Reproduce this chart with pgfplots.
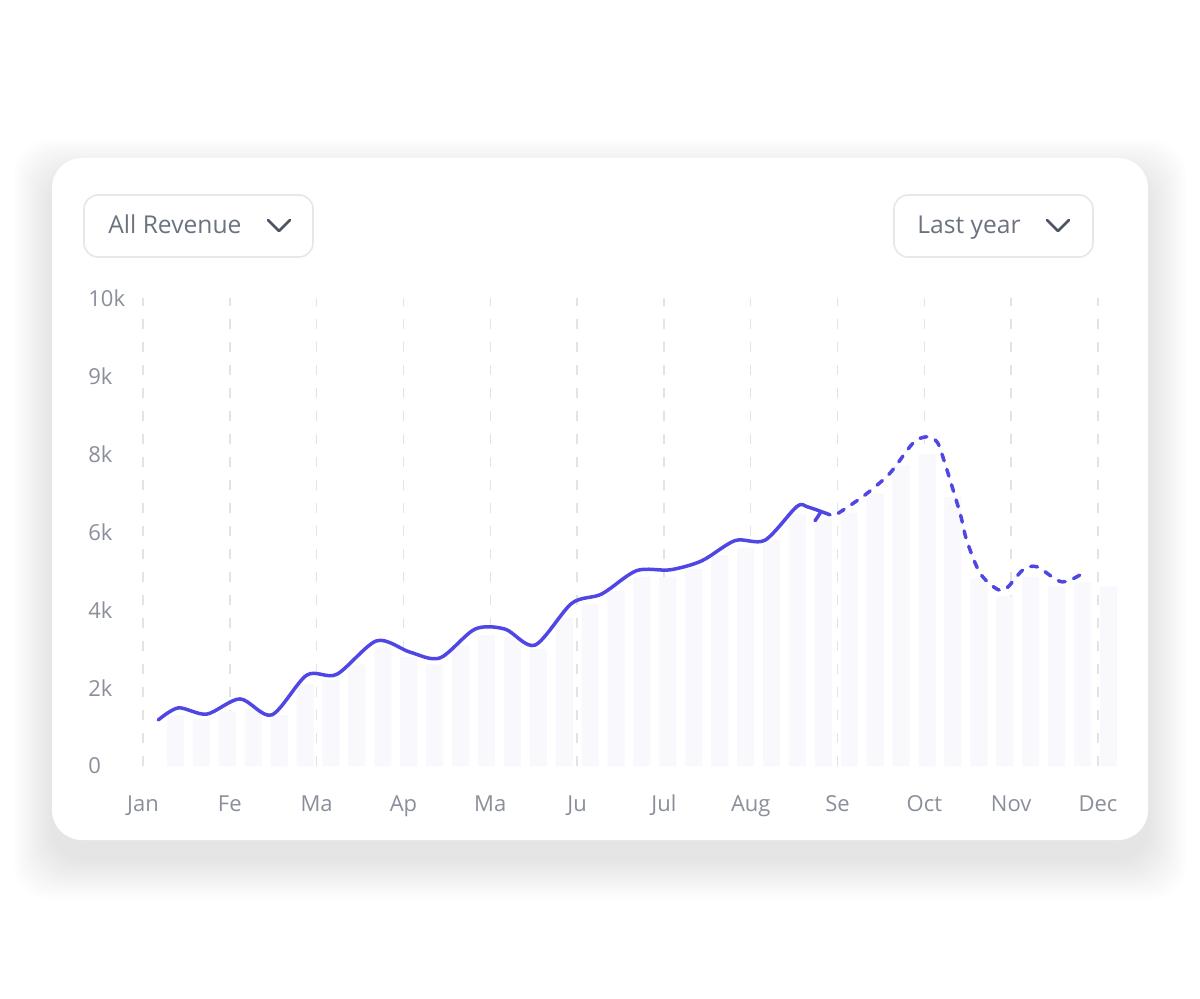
\documentclass[border=0pt]{standalone}
\usepackage{pgfplots}
\pgfplotsset{compat=1.18}
\usepackage{fontspec}
\setmainfont{Open Sans}
\definecolor{linecol}{HTML}{5046E4}
\definecolor{barcol}{HTML}{F8F8FD}
\definecolor{gridcol}{HTML}{E2E3E8}
\definecolor{tickcol}{HTML}{8A8F9B}
\definecolor{ddtext}{HTML}{6B7280}
\definecolor{ddborder}{HTML}{E5E7EB}
\definecolor{chev}{HTML}{4B5563}
\begin{document}
\begin{tikzpicture}
\fill[white] (0,0) rectangle (600pt,499pt);
\begin{scope}[x=0.5pt,y=-0.5pt,shift={(0pt,499pt)}]
  \foreach \i in {1,...,26} {
    \fill[black, opacity=0.0031, rounded corners=18pt] ({52-1.5*\i},{158-1.5*\i+20}) rectangle ({1148+1.5*\i},{840+1.5*\i+20});
  }
  \fill[white, rounded corners=15pt] (52,158) rectangle (1148,840);
  % dropdowns
  \draw[ddborder, line width=0.8pt, rounded corners=7pt, fill=white] (84,195) rectangle (313,257);
  \draw[ddborder, line width=0.8pt, rounded corners=7pt, fill=white] (894,195) rectangle (1093,257);
  \node[anchor=base west, inner sep=0pt, text=ddtext, font=\fontsize{12.3}{14}\selectfont] at (108,234) {All Revenue};
  \node[anchor=base west, inner sep=0pt, text=ddtext, font=\fontsize{12.3}{14}\selectfont] at (917,234) {Last year};
  \draw[chev, line width=1.3pt, line cap=round, line join=round] (268,220) -- (279,231) -- (290,220);
  \draw[chev, line width=1.3pt, line cap=round, line join=round] (1047,220) -- (1058,231) -- (1069,220);
\end{scope}
\useasboundingbox (0,0) rectangle (600pt,499pt);
\begin{axis}[
  at={(71.5pt,116pt)}, anchor=south west,
  scale only axis, width=488.36pt, height=234pt,
  xmin=0, xmax=11.25, ymin=0, ymax=12,
  axis line style={draw=none}, major tick length=0pt,
  xtick={0,...,11},
  xticklabels={Jan,Fe,Ma,Ap,Ma,Ju,Jul,Aug,Se,Oct,Nov,Dec},
  ytick={0,2,...,12},
  yticklabels={0,2k,4k,6k,8k,9k,10k},
  xmajorgrids,
  major grid style={color=gridcol, line width=0.75pt, dash pattern=on 5pt off 6.5pt},
  ticklabel style={font=\fontsize{11}{13}\selectfont, text=tickcol},
  yticklabel style={anchor=west, inner sep=0pt, xshift=-27.5pt},
  xticklabel style={anchor=base, inner sep=0pt, yshift=-22.5pt},
]
\addplot[ybar, bar shift=0pt, bar width=0.196, fill=barcol, draw=none] coordinates {
(0.374,1.3)(0.673,1.2)(0.971,1.4)(1.270,1.45)(1.568,1.3)(1.867,2.1)(2.165,2.2)(2.464,2.6)
(2.762,3.05)(3.061,2.8)(3.359,2.6)(3.658,3.1)(3.956,3.35)(4.255,3.3)(4.553,3.0)(4.852,3.8)
(5.150,4.15)(5.449,4.5)(5.747,4.85)(6.046,4.85)(6.344,5.05)(6.643,5.4)(6.941,5.6)(7.240,5.8)
(7.538,6.45)(7.837,6.3)(8.135,6.5)(8.434,7.0)(8.732,7.7)(9.031,8.0)(9.329,6.9)(9.628,4.8)
(9.926,4.35)(10.225,4.85)(10.523,4.6)(10.822,4.7)(11.120,4.6)};
\addplot[linecol, line width=1.75pt, smooth, tension=0.5, line cap=round] coordinates {
(0.176,1.18)(0.407,1.49)(0.734,1.33)(1.117,1.72)(1.482,1.31)(1.886,2.33)(2.231,2.35)(2.692,3.21)
(3.075,2.92)(3.42,2.77)(3.824,3.51)(4.17,3.51)(4.515,3.10)(4.938,4.17)(5.283,4.41)(5.686,5.01)
(6.07,5.03)(6.435,5.26)(6.82,5.78)(7.164,5.79)(7.53,6.65)(7.66,6.64)(7.913,6.44)};
\addplot[linecol, line width=1.75pt, smooth, line cap=round] coordinates {(7.80,6.49)(7.76,6.35)(7.74,6.29)};
\addplot[linecol, line width=1.75pt, smooth, tension=0.5, line cap=round, dash pattern=on 3.5pt off 4.5pt] coordinates {
(8.008,6.48)(8.316,6.95)(8.604,7.51)(8.869,8.28)(9.027,8.44)(9.142,8.32)(9.214,7.92)(9.41,6.49)
(9.487,5.79)(9.64,4.95)(9.833,4.54)(9.948,4.56)(10.136,5.03)(10.294,5.11)(10.524,4.77)(10.64,4.73)(10.81,4.92)};
\end{axis}
\end{tikzpicture}
\end{document}
